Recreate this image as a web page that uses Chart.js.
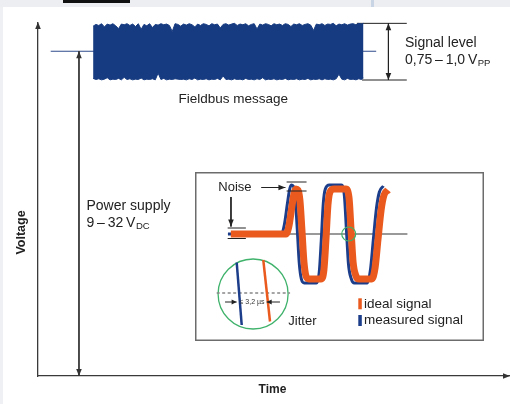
<!DOCTYPE html>
<html><head><meta charset="utf-8">
<script src="https://cdn.jsdelivr.net/npm/chart.js@4.4.1/dist/chart.umd.min.js"></script>
<style>
html,body{margin:0;padding:0;background:#fff;}
#wrap{position:relative;width:510px;height:404px;overflow:hidden;background:#fff;}
#topstrip{position:absolute;left:0;top:0;width:510px;height:7px;background:#eceef2;}
#topbox{position:absolute;left:63px;top:0;width:67px;height:3px;background:#111;}
#topsep{position:absolute;left:371px;top:0;width:3px;height:7px;background:#c9d5e4;}
#leftstrip{position:absolute;left:0;top:7px;width:3px;height:397px;background:#eef0f3;}
#main{position:absolute;left:0;top:0;}
#inset{position:absolute;left:195px;top:172px;}
</style></head><body>
<div id="wrap">
<div id="topstrip"></div><div id="topbox"></div><div id="topsep"></div><div id="leftstrip"></div>
<canvas id="main" width="510" height="404"></canvas>
<canvas id="inset" width="289" height="169"></canvas>
</div>
<script>
// ---------- main diagram data (arbitrary time / voltage units) ----------
const busTime  = [11.7,12.3,12.9,13.5,14.1,14.7,15.3,15.9,16.5,17.1,17.7,18.3,18.9,19.5,20.1,20.7,21.3,21.9,22.5,23.1,23.7,24.3,24.9,25.5,26.1,26.7,27.3,27.9,28.5,29.1,29.7,30.3,30.9,31.5,32.1,32.7,33.3,33.9,34.5,35.1,35.7,36.3,36.9,37.5,38.1,38.7,39.3,39.9,40.5,41.1,41.7,42.3,42.9,43.5,44.1,44.7,45.3,45.9,46.5,47.1,47.7,48.3,48.9,49.5,50.1,50.7,51.3,51.9,52.5,53.1,53.7,54.3,54.9,55.5,56.1,56.7,57.3,57.9,58.5,59.1,59.7,60.3,60.9,61.5,62.1,62.7,63.3,63.9,64.5,65.1,65.7,66.3,66.9,67.5,68.1,68.7,69.1];
const busUpper = [99.1,99.6,99.3,99.8,98.9,99.7,99.4,99.8,99.2,98.4,
                  99.7,99.5,99.8,99.3,99.7,99.0,99.8,98.2,99.6,99.2,
                  99.8,98.7,99.6,99.4,99.8,99.5,99.7,99.3,97.6,99.8,
                  99.6,99.1,99.7,99.4,99.8,99.5,98.9,99.7,99.3,99.8,
                  99.6,99.2,99.8,99.5,99.7,98.6,99.6,99.8,99.4,99.7,
                  99.9,99.3,99.7,99.5,99.8,99.2,99.6,99.8,98.3,99.7,
                  99.4,99.8,99.6,99.2,99.8,99.5,99.7,99.3,99.8,99.6,
                  99.0,99.7,99.5,99.8,99.3,99.6,99.8,99.4,97.9,99.7,
                  99.5,99.8,99.3,99.7,99.6,99.9,99.2,99.7,99.5,99.8,
                  99.4,99.7,99.8,99.5,99.9,99.7,99.9];
const busLower = [84.3,84.0,84.2,83.9,84.1,84.5,83.9,84.1,84.0,84.3,
                  83.9,84.6,84.0,84.2,83.9,84.1,84.0,84.4,83.9,84.1,
                  84.0,84.2,83.9,85.8,84.0,84.3,83.9,84.1,84.0,84.2,
                  84.1,84.0,84.1,83.9,84.2,84.0,84.4,83.9,84.1,84.0,
                  84.2,83.9,84.1,84.0,84.3,83.9,85.0,84.0,84.1,83.9,
                  84.2,84.0,84.1,83.9,84.3,84.0,84.1,83.9,84.2,84.0,
                  84.5,83.9,84.1,84.0,84.2,83.9,84.1,84.0,84.3,83.9,
                  84.1,84.0,84.2,83.9,84.1,84.0,84.3,83.9,84.1,84.0,
                  84.2,83.9,84.2,84.0,84.1,83.9,84.2,85.5,84.1,83.9,
                  84.3,84.0,84.1,83.9,84.2,84.0,84.4];
const dcLevel = 92.0;
const signalLevel = [99.9, 83.85];          // peak-to-peak limits of the bus signal
const dcLineTime = [2.7, 71.8];
const levelMarkTopTime = [67.7, 78.3];
const levelMarkBottomTime = [68.8, 78.3];
const levelArrowTime = 74.4;
const supplyArrowTime = 8.7;

// ---------- inset data (time units / normalised voltage) ----------
const idealT = [12.4,31.5,32.5,33.6,34.3,34.9,35.6,36.3,37.0,37.7,38.4,39.4,43.6,44.6,45.3,46.0,46.7,48.1,52.2,53.3,54.0,54.7,55.7,56.7,61.2,62.3,63.3,64.4,65.4,66.8];
const idealV = [0,0,0.16,0.58,0.82,0.9,0.88,0.68,0.08,-0.56,-0.84,-0.9,-0.9,-0.72,-0.12,0.58,0.84,0.9,0.9,0.72,0.08,-0.56,-0.84,-0.9,-0.9,-0.68,-0.12,0.48,0.78,0.88];
const measT = [11.4,29.9,30.9,32.0,32.7,33.3,34.0,34.7,35.4,36.1,36.8,37.8,42.0,43.0,43.7,44.4,45.1,46.5,50.6,51.7,52.4,53.1,54.1,55.1,59.6,60.7,61.7,62.8,63.8,65.2];
const measV = [0,0,0.18,0.62,0.88,0.98,0.96,0.72,0.08,-0.6,-0.9,-0.98,-0.98,-0.76,-0.12,0.62,0.9,0.98,0.98,0.76,0.08,-0.6,-0.9,-0.98,-0.98,-0.72,-0.12,0.52,0.84,0.96];
const refLineT = [11.4, 73.5];
const noiseTopT = [31.7, 38.6];
const noiseTopV = [1.04, 0.86];
const noiseLowT = [11.3, 17.6];
const noiseLowV = [0.12, -0.09];
const noiseArrowH = {t:[22.9, 31.3], v:0.93};
const noiseArrowV = {t:12.45, v:[0.74, 0.15]};
const crossPoint = {t:53.2, v:0};
const lensCenter = {t:20.1, v:-1.2};
const lensRefV = -1.18, lensRefT = [7.5, 32.9];
const lensMeasT = [14.43, 16.16], lensMeasV = [-0.57, -1.82];
const lensIdealT = [23.63, 25.95], lensIdealV = [-0.52, -1.75];
const jitterArrowV = -1.36;
const jitterLeftT = [10.4, 14.4], jitterRightT = [29.4, 24.8];

const NAVY = '#173b80', BLUE = '#1c3d8a', ORANGE = '#ea5a1e', GREEN = '#3fb26b', INK = '#222';
const FONT = '"Liberation Sans", Arial, sans-serif';

const pts = (ts, vs) => ts.map((t, i) => ({x: t, y: Array.isArray(vs) ? vs[i] : vs}));

function drawHead(ctx, x0, y0, x1, y1, color, len, hw) {
  const a = Math.atan2(y1 - y0, x1 - x0);
  ctx.save(); ctx.fillStyle = color; ctx.beginPath();
  ctx.moveTo(x1, y1);
  ctx.lineTo(x1 - len*Math.cos(a) + hw*Math.sin(a), y1 - len*Math.sin(a) - hw*Math.cos(a));
  ctx.lineTo(x1 - len*Math.cos(a) - hw*Math.sin(a), y1 - len*Math.sin(a) + hw*Math.cos(a));
  ctx.closePath(); ctx.fill(); ctx.restore();
}
const arrowPlugin = {
  id: 'arrowHeads',
  afterDatasetsDraw(chart) {
    const ctx = chart.ctx;
    chart.data.datasets.forEach((ds, i) => {
      if (!ds.arrows) return;
      const p = chart.getDatasetMeta(i).data, n = p.length;
      ds.arrows.forEach(w => {
        const tip = w === 'end' ? p[n-1] : p[0], from = w === 'end' ? p[n-2] : p[1];
        drawHead(ctx, from.x, from.y, tip.x, tip.y, ds.borderColor, ds.headLen || 7, ds.headW || 2.8);
      });
    });
  }
};
function subText(ctx, main, sub, x, y, size) {
  ctx.font = size + 'px ' + FONT; ctx.fillText(main, x, y);
  const w = ctx.measureText(main).width;
  ctx.font = (size*0.68) + 'px ' + FONT; ctx.fillText(sub, x + w + 0.5, y + 2);
}
const mainLabels = {
  id: 'mainLabels',
  afterDraw(chart) {
    const ctx = chart.ctx, a = chart.chartArea;
    drawHead(ctx, a.left, a.top + 10, a.left, a.top - 1, '#333', 7, 2.8);
    drawHead(ctx, a.right - 10, a.bottom, a.right + 1, a.bottom, '#333', 7, 2.8);
    ctx.save(); ctx.fillStyle = INK; ctx.textBaseline = 'alphabetic'; ctx.textAlign = 'left';
    ctx.font = '14px ' + FONT;
    ctx.fillText('Signal level', 405, 47);
    subText(ctx, '0,75\u2009–\u20091,0\u2009V', 'PP', 405, 63.5, 14);
    ctx.font = '13.5px ' + FONT;
    ctx.fillText('Fieldbus message', 178.5, 103);
    ctx.font = '14px ' + FONT;
    ctx.fillText('Power supply', 86.5, 210);
    subText(ctx, '9\u2009–\u200932\u2009V', 'DC', 86.5, 226.5, 14);
    ctx.font = 'bold 12px ' + FONT; ctx.textAlign = 'center'; ctx.textBaseline = 'middle';
    ctx.fillText('Time', 272.5, 389.5);
    ctx.translate(21.5, 232.5); ctx.rotate(-Math.PI/2);
    ctx.font = 'bold 12.5px ' + FONT; ctx.fillText('Voltage', 0, 0);
    ctx.restore();
  }
};
const line = (label, data, color, width, order, extra) => Object.assign(
  {label, data, borderColor: color, borderWidth: width, pointRadius: 0, fill: false, order, clip: false, tension: 0}, extra || {});

new Chart(document.getElementById('main'), {
  type: 'line',
  data: { datasets: [
    line('Fieldbus message', pts(busTime, busUpper), NAVY, 1, 1, {fill: '+1', backgroundColor: NAVY}),
    line('bus lower', pts(busTime, busLower), NAVY, 1, 2),
    line('DC level', pts(dcLineTime, dcLevel), '#2d4b8c', 1.2, 6),
    line('level top', pts(levelMarkTopTime, signalLevel[0]), INK, 1, 3),
    line('level bottom', pts(levelMarkBottomTime, signalLevel[1]), INK, 1, 3),
    line('level arrow', pts([levelArrowTime, levelArrowTime], signalLevel), INK, 1, 3, {arrows: ['start', 'end']}),
    line('supply arrow', pts([supplyArrowTime, supplyArrowTime], [dcLevel, 0]), '#333', 1, 3, {arrows: ['start', 'end']})
  ]},
  options: {
    responsive: false, animation: false, events: [],
    layout: {padding: {left: 38, top: 23, right: 1, bottom: 28}, autoPadding: false},
    scales: {
      x: {type: 'linear', min: 0, max: 100, grid: {display: false, drawTicks: false}, ticks: {display: false},
          border: {display: true, color: '#3a3a3a', width: 1.3}, afterFit: s => { s.height = 0; }},
      y: {type: 'linear', min: 0, max: 100, grid: {display: false, drawTicks: false}, ticks: {display: false},
          border: {display: true, color: '#3a3a3a', width: 1.3}, afterFit: s => { s.width = 0; }}
    },
    plugins: {legend: {display: false}, tooltip: {enabled: false}, title: {display: false}}
  },
  plugins: [arrowPlugin, mainLabels]
});

const insetLabels = {
  id: 'insetLabels',
  beforeDraw(chart) {
    const ctx = chart.ctx;
    ctx.save(); ctx.fillStyle = '#fff'; ctx.fillRect(0, 0, chart.width, chart.height); ctx.restore();
  },
  afterDraw(chart) {
    const ctx = chart.ctx;
    ctx.save();
    ctx.strokeStyle = '#6c6c6c'; ctx.lineWidth = 1.5; ctx.strokeRect(0.75, 0.75, chart.width - 1.5, chart.height - 1.5);
    ctx.fillStyle = INK; ctx.textAlign = 'left'; ctx.textBaseline = 'alphabetic';
    ctx.font = '13px ' + FONT;
    ctx.fillText('Noise', 23.3, 19);
    ctx.fillText('Jitter', 93.3, 152.5);
    ctx.font = '13.5px ' + FONT;
    ctx.fillText('ideal signal', 169, 136.3);
    ctx.fillText('measured signal', 169, 152.3);
    ctx.fillStyle = ORANGE; ctx.fillRect(163.3, 126.3, 3.5, 11);
    ctx.fillStyle = BLUE; ctx.fillRect(163.3, 143, 3.5, 11);
    ctx.fillStyle = '#333'; ctx.font = '7px ' + FONT; ctx.textAlign = 'center'; ctx.textBaseline = 'middle';
    ctx.fillText('≤ 3,2 µs', 57, 130);
    ctx.restore();
  }
};

new Chart(document.getElementById('inset'), {
  type: 'line',
  data: { datasets: [
    line('lens', [lensCenter].map(p => ({x: p.t, y: p.v})), GREEN, 1.3, 20, {showLine: false, pointRadius: 35, pointBorderColor: GREEN, pointBorderWidth: 1.3, pointBackgroundColor: 'rgba(255,255,255,0)'}),
    line('reference', pts(refLineT, 0), '#777', 1.5, 15),
    line('lens ref', pts(lensRefT, lensRefV), '#888', 1.5, 14, {borderDash: [3, 2.5]}),
    line('lens measured', pts(lensMeasT, lensMeasV), BLUE, 2.5, 13),
    line('lens ideal', pts(lensIdealT, lensIdealV), ORANGE, 2.5, 13),
    line('measured signal', pts(measT, measV), BLUE, 3, 6, {cubicInterpolationMode: 'monotone'}),
    line('ideal signal', pts(idealT, idealV), ORANGE, 7, 5, {cubicInterpolationMode: 'monotone'}),
    line('noise top a', pts(noiseTopT, noiseTopV[0]), INK, 1, 3),
    line('noise top b', pts(noiseTopT, noiseTopV[1]), INK, 1, 3),
    line('noise low a', pts(noiseLowT, noiseLowV[0]), INK, 1, 3),
    line('noise low b', pts(noiseLowT, noiseLowV[1]), INK, 1, 3),
    line('noise arrow h', pts(noiseArrowH.t, noiseArrowH.v), INK, 1, 2, {arrows: ['end']}),
    line('noise arrow v', pts([noiseArrowV.t, noiseArrowV.t], noiseArrowV.v), INK, 1, 2, {arrows: ['end']}),
    line('jitter left', pts(jitterLeftT, jitterArrowV), INK, 1, 2, {arrows: ['end'], headLen: 5, headW: 2.5}),
    line('jitter right', pts(jitterRightT, jitterArrowV), INK, 1, 2, {arrows: ['end'], headLen: 5, headW: 2.5}),
    line('crossing', [{x: crossPoint.t, y: crossPoint.v}], GREEN, 1.2, 1, {showLine: false, pointRadius: 7, pointBorderColor: GREEN, pointBorderWidth: 1.2, pointBackgroundColor: 'rgba(255,255,255,0)'})
  ]},
  options: {
    responsive: false, animation: false, events: [],
    layout: {padding: 0, autoPadding: false},
    scales: {
      x: {type: 'linear', min: 0, max: 100, display: false},
      y: {type: 'linear', min: -2.14, max: 1.24, display: false}
    },
    plugins: {legend: {display: false}, tooltip: {enabled: false}}
  },
  plugins: [insetLabels, arrowPlugin]
});
</script>
</body></html>
